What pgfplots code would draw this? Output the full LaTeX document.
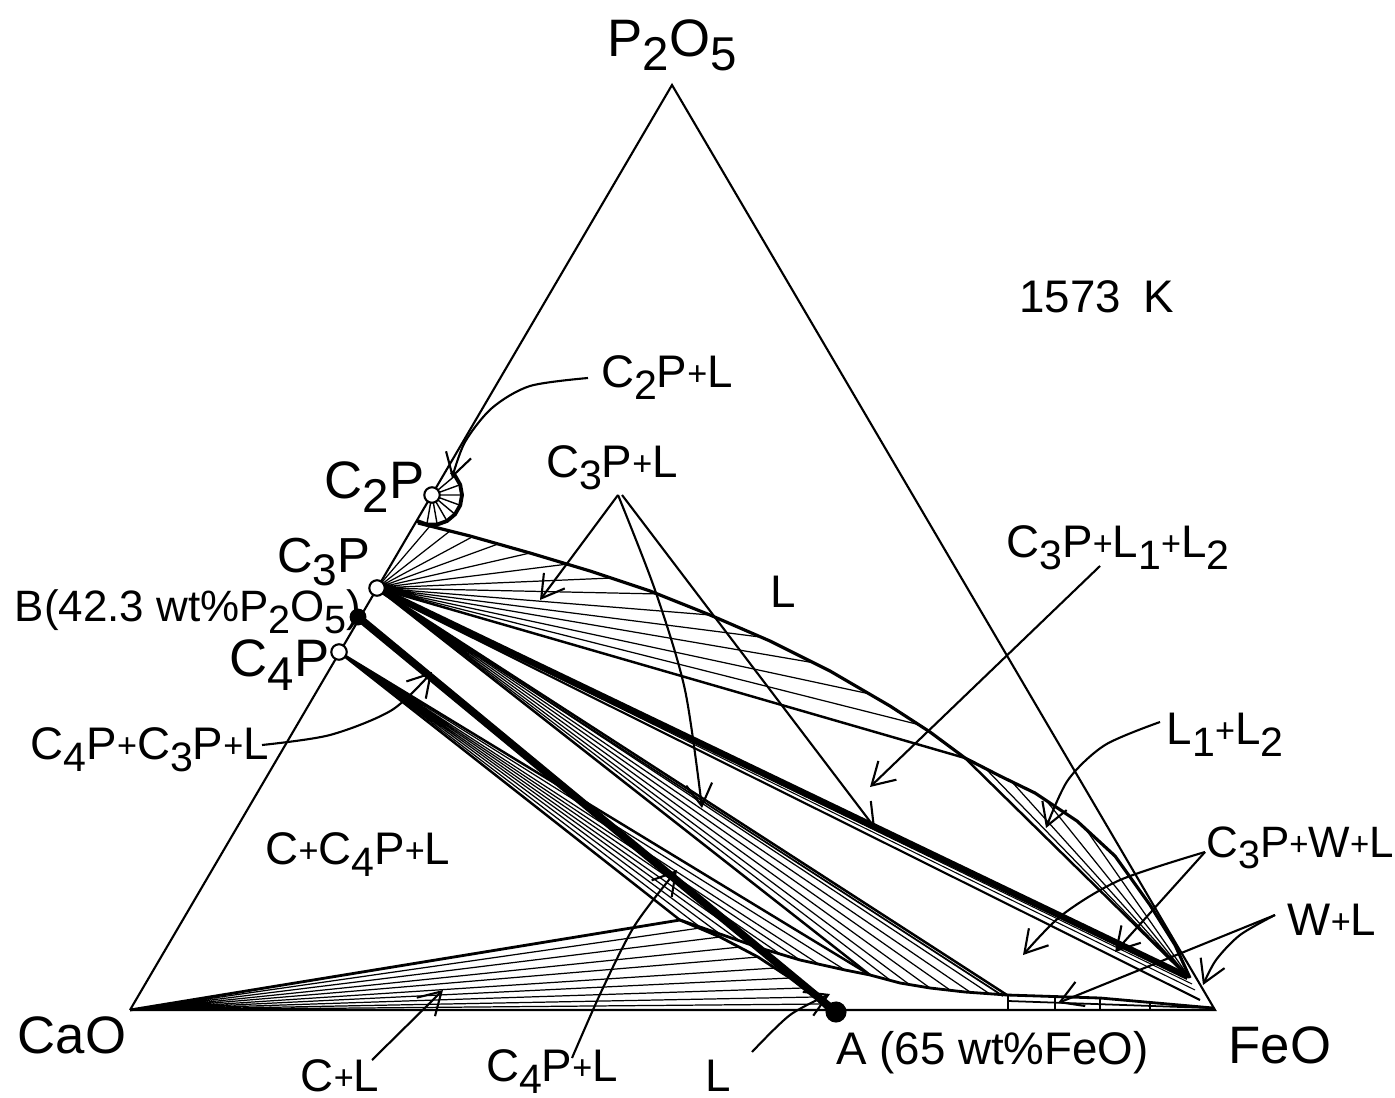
\documentclass[border=0pt]{standalone}
\usepackage{pgfplots}
\pgfplotsset{compat=1.18}
\usepackage{graphicx}
\usepackage{fontspec}
\setmainfont{Liberation Sans}
\usetikzlibrary{arrows.meta}
\newcommand{\s}[1]{\raisebox{-0.5ex}{\scalebox{0.9}{#1}}}
\newcommand{\p}{\raisebox{0.1ex}{\scalebox{0.75}{+}}}
\begin{document}
\begin{tikzpicture}
\begin{axis}[width=13.95cm,height=10.98cm,scale only axis,
  xmin=0,xmax=1395,ymin=0,ymax=1098,y dir=reverse,hide axis,clip=false,
  unbounded coords=jump]
% triangle
\addplot[black,line width=0.6pt] coordinates {(130,1010) (1215,1010) (672,85) (130,1010)};
% C2P+L arc and radial lines
\addplot[black,line width=1.1pt] coordinates {(417,521) (426.8,524.5) (437.2,524.5) (447,521) (455,514.3) (460.2,505.3) (462,495) (460.2,484.7) (455,475.7) (451.3,472)};
\addplot[black,line width=0.4pt] coordinates {(432,495) (426.8,524.5) (nan,nan) (432,495) (437.2,524.5) (nan,nan) (432,495) (447,521) (nan,nan) (432,495) (455,514.3) (nan,nan) (432,495) (460.2,505.3) (nan,nan) (432,495) (462,495) (nan,nan) (432,495) (460.2,484.7) (nan,nan) (432,495) (455,475.7)};
% upper liquidus and L1+L2 binodal
\addplot[black,line width=0.9pt] coordinates {(418,523) (470,536) (530,553) (590,571) (650,591) (710,615) (770,641) (830,671) (890,706) (930,732) (965,758) (1000,776) (1035,793) (1077,821) (1115,856) (1150,905) (1175,945) (1190,978)};
% C3P+L fan (upper)
\addplot[black,line width=0.35pt] coordinates {(377,588) (430,526) (nan,nan) (377,588) (450,531) (nan,nan) (377,588) (472,537) (nan,nan) (377,588) (498,544) (nan,nan) (377,588) (530,553) (nan,nan) (377,588) (568,564) (nan,nan) (377,588) (612,578) (nan,nan) (377,588) (660,594) (nan,nan) (377,588) (710,615) (nan,nan) (377,588) (760,637) (nan,nan) (377,588) (815,663) (nan,nan) (377,588) (870,694) (nan,nan) (377,588) (920,725)};
% C3P - L1 and L1 - L2
\addplot[black,line width=0.7pt] coordinates {(377,588) (965,758) (1188,977)};
% L1+L2 tie lines
\addplot[black,line width=0.35pt] coordinates {(985,768) (1186,975) (nan,nan) (1012,782) (1187,976) (nan,nan) (1045,799) (1188,977) (nan,nan) (1085,828) (1189,977)};
% C3P - L2 thick band
\addplot[black,line width=1.8pt] coordinates {(377,588) (1188,977)};
\addplot[black,line width=0.6pt] coordinates {(377,590) (1200,1000)};
\addplot[black,line width=0.3pt] coordinates {(377,589) (1195,990) (nan,nan) (377,589) (1192,984)};
% C3P - L (lower boundary, double line)
\addplot[black,line width=0.7pt] coordinates {(377,588) (1007,995)};
\addplot[black,line width=0.5pt] coordinates {(380,592) (1003,996)};
% lower C3P+L fan
\addplot[black,line width=0.35pt] coordinates {(377,588) (890,980) (nan,nan) (377,588) (910,985) (nan,nan) (377,588) (930,988) (nan,nan) (377,588) (950,990) (nan,nan) (377,588) (970,992) (nan,nan) (377,588) (990,994)};
\addplot[black,line width=0.7pt] coordinates {(377,588) (870,975)};
% lower liquidus
\addplot[black,line width=0.8pt] coordinates {(680,920) (720,934) (760,948) (800,960) (845,970) (870,975) (900,983) (930,988) (965,992) (1007,995)};
% C4P+L fan
\addplot[black,line width=0.7pt] coordinates {(339,652) (680,920) (nan,nan) (339,652) (870,975)};
\addplot[black,line width=0.35pt] coordinates {(339,652) (700,927) (nan,nan) (339,652) (720,934) (nan,nan) (339,652) (740,941) (nan,nan) (339,652) (760,948) (nan,nan) (339,652) (780,954) (nan,nan) (339,652) (800,960) (nan,nan) (339,652) (820,965) (nan,nan) (339,652) (845,970)};
% C+L fan
\addplot[black,line width=0.8pt] coordinates {(130,1010) (680,920) (720,937) (758,957) (790,978) (815,997) (828,1010)};
\addplot[black,line width=0.35pt] coordinates {(130,1010) (700,928) (nan,nan) (130,1010) (720,937) (nan,nan) (130,1010) (740,947) (nan,nan) (130,1010) (758,957) (nan,nan) (130,1010) (775,968) (nan,nan) (130,1010) (790,978) (nan,nan) (130,1010) (803,988) (nan,nan) (130,1010) (815,997) (nan,nan) (130,1010) (823,1004)};
% W+L region
\addplot[black,line width=0.8pt] coordinates {(1007,995) (1100,998) (1213,1008)};
\addplot[black,line width=0.5pt] coordinates {(1008,995) (1008,1010) (nan,nan) (1008,1001) (1210,1008)};
\addplot[black,line width=0.35pt] coordinates {(1055,997) (1055,1010) (nan,nan) (1100,999) (1100,1010) (nan,nan) (1150,1002) (1150,1010)};
% AB composition line
\addplot[black,line width=2.2pt] coordinates {(358,617) (836,1012)};
% arrows
\addplot[black,line width=0.6pt,-{Straight Barb[length=2.2mm,width=2.6mm]},smooth] coordinates {(588,378) (530,386) (492,408) (465,442) (452,478)};
\addplot[black,line width=0.6pt,-{Straight Barb[length=2.2mm,width=2.6mm]}] coordinates {(618,495) (540,600)};
\addplot[black,line width=0.6pt,-{Straight Barb[length=2.2mm,width=2.6mm]},smooth] coordinates {(618,495) (655,590) (685,690) (702,808)};
\addplot[black,line width=0.6pt,-{Straight Barb[length=2.2mm,width=2.6mm]}] coordinates {(622,495) (875,828)};
\addplot[black,line width=0.6pt,-{Straight Barb[length=2.2mm,width=2.6mm]}] coordinates {(1100,566) (870,787)};
\addplot[black,line width=0.6pt,-{Straight Barb[length=2.2mm,width=2.6mm]},smooth] coordinates {(1160,722) (1105,745) (1068,780) (1046,828)};
\addplot[black,line width=0.6pt,-{Straight Barb[length=2.2mm,width=2.6mm]},smooth] coordinates {(262,745) (330,735) (392,710) (432,672)};
\addplot[black,line width=0.6pt,-{Straight Barb[length=2.2mm,width=2.6mm]},smooth] coordinates {(1205,852) (1120,880) (1062,915) (1023,955)};
\addplot[black,line width=0.6pt,-{Straight Barb[length=2.2mm,width=2.6mm]}] coordinates {(1205,852) (1115,952)};
\addplot[black,line width=0.6pt,-{Straight Barb[length=2.2mm,width=2.6mm]},smooth] coordinates {(1275,915) (1240,935) (1216,960) (1203,985)};
\addplot[black,line width=0.6pt,-{Straight Barb[length=2.2mm,width=2.6mm]}] coordinates {(1275,915) (1058,1003)};
\addplot[black,line width=0.6pt,-{Straight Barb[length=2.2mm,width=2.6mm]}] coordinates {(372,1060) (443,990)};
\addplot[black,line width=0.6pt,-{Straight Barb[length=2.2mm,width=2.6mm]},smooth] coordinates {(572,1058) (602,990) (635,925) (677,870)};
\addplot[black,line width=0.6pt,-{Straight Barb[length=2.2mm,width=2.6mm]},smooth] coordinates {(752,1052) (790,1015) (830,994)};
% points
\addplot[only marks,mark=*,mark size=2.2pt,mark options={fill=white,draw=black,line width=0.6pt}] coordinates {(432,495) (377,588) (339,652)};
\addplot[only marks,mark=*,mark size=2.2pt,mark options={fill=black}] coordinates {(358,617)};
\addplot[only marks,mark=*,mark size=2.8pt,mark options={fill=black}] coordinates {(836,1012)};
% labels
\node[font=\fontsize{15}{17}\selectfont] at (axis cs:672,45) {P\s{2}O\s{5}};
\node[font=\fontsize{13}{15}\selectfont] at (axis cs:1097,297) {1573\enspace K};
\node[font=\fontsize{13}{15}\selectfont] at (axis cs:667,378) {C\s{2}P\p L};
\node[font=\fontsize{13}{15}\selectfont] at (axis cs:612,468) {C\s{3}P\p L};
\node[font=\fontsize{15}{17}\selectfont,anchor=east,inner sep=0pt] at (axis cs:425,487) {C\s{2}P};
\node[font=\fontsize{14}{16}\selectfont,anchor=east,inner sep=0pt] at (axis cs:371,562) {C\s{3}P};
\node[font=\fontsize{12.5}{15}\selectfont,anchor=west,inner sep=0pt] at (axis cs:14,612) {B(42.3 wt\%P\s{2}O\s{5})};
\node[font=\fontsize{15}{17}\selectfont,anchor=east,inner sep=0pt] at (axis cs:330,665) {C\s{4}P};
\node[font=\fontsize{13}{15}\selectfont] at (axis cs:783,592) {L};
\node[font=\fontsize{13}{15}\selectfont] at (axis cs:1118,548) {C\s{3}P\p L\s{1}\p L\s{2}};
\node[font=\fontsize{13}{15}\selectfont] at (axis cs:1225,735) {L\s{1}\p L\s{2}};
\node[font=\fontsize{13}{15}\selectfont,anchor=west,inner sep=0pt] at (axis cs:30,750) {C\s{4}P\p C\s{3}P\p L};
\node[font=\fontsize{13}{15}\selectfont] at (axis cs:358,855) {C\p C\s{4}P\p L};
\node[font=\fontsize{12.5}{15}\selectfont,inner sep=0pt] at (axis cs:1300,848) {C\s{3}P\p W\p L};
\node[font=\fontsize{13}{15}\selectfont,inner sep=0pt] at (axis cs:1332,920) {W\p L};
\node[font=\fontsize{15}{17}\selectfont] at (axis cs:72,1035) {CaO};
\node[font=\fontsize{15}{17}\selectfont] at (axis cs:1280,1045) {FeO};
\node[font=\fontsize{13}{15}\selectfont] at (axis cs:340,1076) {C\p L};
\node[font=\fontsize{13}{15}\selectfont] at (axis cs:552,1072) {C\s{4}P\p L};
\node[font=\fontsize{13}{15}\selectfont] at (axis cs:718,1076) {L};
\node[font=\fontsize{13}{15}\selectfont,anchor=west] at (axis cs:824,1053) {A (65 wt\%FeO)};
\end{axis}
\pgfresetboundingbox
\path[use as bounding box] (current axis.south west) rectangle (current axis.north east);
\end{tikzpicture}
\end{document}
